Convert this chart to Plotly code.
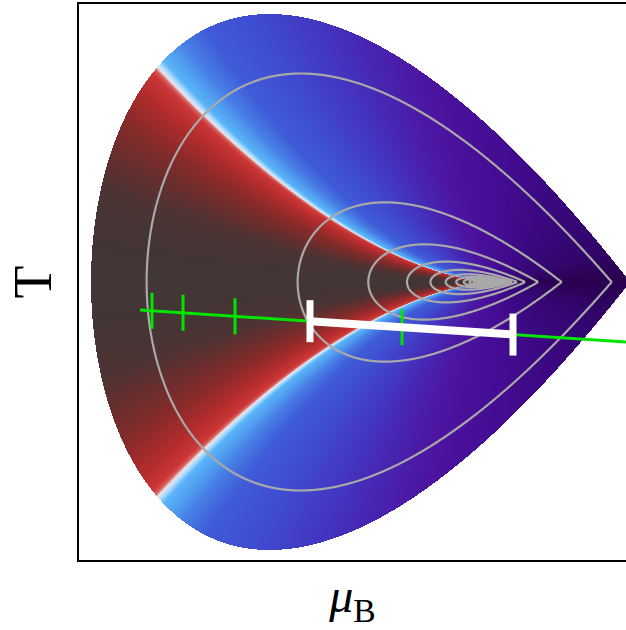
import numpy as np
import plotly.graph_objects as go

# ---------------- values ----------------
# axis units: mu_B and T in arbitrary units (1 unit ~ 1 px of the reference plot area)
mu_range = [0, 547]
T_range = [0, 556]

critical_point = [417, 278]          # (mu_B, T) of the critical point

# parametric (linear) equation of state: r = R (1 - t^2), h ~ R^q * t (1 + c1 t^2 + c2 t^4)
h_coef = [1.0, -0.76201, 0.00804]
height_exponent = 1.7                 # vertical scaling of the contours
region_R = 405                        # R of the outer edge of the shaded region
region_height = 268                   # half height of the region (at its widest)

# contour levels (in 1/sqrt(R))
contour_start = 0.0535
contour_size = 0.0175
contour_end = 0.36

# colour of the field versus the parametric angle t
t_stops = [0.0, 0.10, 0.165, 0.213, 0.29, 0.353, 0.39, 0.399, 0.405, 0.411, 0.423, 0.449,
           0.477, 0.53, 0.632, 0.747, 0.83, 0.91, 1.01, 1.07, 1.12, 1.1505]
t_colors = ['#433636', '#453535', '#4e3333', '#642e2e', '#8a2a2a', '#b42c2c', '#cc3636',
            '#d86060', '#e8e4e8', '#b8e0fc', '#5ab4f8', '#509ef0', '#4880e6', '#3f5cd8',
            '#3f4cd0', '#4336c0', '#4824b0', '#4c14a0', '#440c92', '#3a0880', '#32066c', '#2a0050']

# green trajectory and its marks
green_mu = [61, 547]
green_T = [250, 218]
green_tick_mu = [73, 104, 156, 323]
green_tick_half = 18

# white bar (range on the trajectory)
bar_mu = [231, 434]
bar_cap_half = 21

# ---------------- template curve of one contour ----------------
c0, c1, c2 = h_coef
roots = np.roots([c2, c1, c0])
t_tip = float(np.sqrt(np.min(roots[roots > 0].real)))
tt = np.linspace(0, t_tip, 4000)
h_t = tt * (c0 + c1 * tt ** 2 + c2 * tt ** 4)
tmpl_X = tt ** 2 - 1.0
tmpl_V = np.clip(h_t / h_t.max(), 0, None)

# ---------------- fields ----------------
mu = np.arange(mu_range[0], mu_range[1]) + 0.5
T = np.arange(T_range[0], T_range[1]) + 0.5
M, TT = np.meshgrid(mu, T)
dx = M - critical_point[0]
v = np.abs(TT - critical_point[1])

lo = np.full(M.shape, 0.01)
hi = np.full(M.shape, 5000.0)
for _ in range(46):
    mid = np.sqrt(lo * hi)
    X = dx / mid
    Vn = v / (region_height * (mid / region_R) ** height_exponent)
    lim = np.interp(X, tmpl_X, tmpl_V, left=-1.0, right=-1.0)
    inside = Vn <= lim
    hi = np.where(inside, mid, hi)
    lo = np.where(inside, lo, mid)
Rmap = np.sqrt(lo * hi)
G = np.round(1.0 / np.sqrt(Rmap), 5)

tmap = np.sqrt(np.clip(1.0 + dx / Rmap, 0, t_tip ** 2))
zfield = np.where(Rmap <= region_R, np.round(tmap, 4), np.nan)

colorscale = [[s / t_stops[-1], c] for s, c in zip(t_stops, t_colors)]

fig = go.Figure()
fig.add_trace(go.Heatmap(x=mu, y=T, z=zfield, zmin=0, zmax=t_stops[-1], colorscale=colorscale,
                         showscale=False, hoverinfo='skip', zsmooth=False))
fig.add_trace(go.Contour(x=mu, y=T, z=G, showscale=False, hoverinfo='skip',
                         contours=dict(coloring='none', start=contour_start, end=contour_end,
                                       size=contour_size),
                         line=dict(color='#a9a9a9', width=2.2, smoothing=1)))

# green line
slope = (green_T[1] - green_T[0]) / (green_mu[1] - green_mu[0])


def on_green(m):
    return green_T[0] + slope * (m - green_mu[0])


fig.add_trace(go.Scatter(x=green_mu, y=green_T, mode='lines',
                         line=dict(color='#00e400', width=3), hoverinfo='skip'))
tx, ty = [], []
for m in green_tick_mu:
    c = on_green(m)
    tx += [m, m, None]
    ty += [c - green_tick_half, c + green_tick_half, None]
fig.add_trace(go.Scatter(x=tx, y=ty, mode='lines', line=dict(color='#00e400', width=3),
                         hoverinfo='skip'))

# white bar with caps
fig.add_trace(go.Scatter(x=bar_mu, y=[on_green(m) for m in bar_mu], mode='lines',
                         line=dict(color='white', width=8), hoverinfo='skip'))
cx, cy = [], []
for m in bar_mu:
    c = on_green(m)
    cx += [m, m, None]
    cy += [c - bar_cap_half, c + bar_cap_half, None]
fig.add_trace(go.Scatter(x=cx, y=cy, mode='lines', line=dict(color='white', width=7),
                         hoverinfo='skip'))

axis_common = dict(showgrid=False, zeroline=False, showticklabels=False, ticks='',
                   showline=True, linecolor='black', linewidth=1.5)
fig.update_layout(
    width=626, height=630,
    margin=dict(l=79, r=0, t=4, b=70),
    paper_bgcolor='white', plot_bgcolor='white',
    showlegend=False,
    xaxis=dict(range=mu_range, mirror=True, **axis_common,
               title=dict(text='<i>μ</i><sub>B</sub>', standoff=18,
                          font=dict(family='Liberation Serif', size=48, color='black'))),
    yaxis=dict(range=T_range, mirror=False, **axis_common,
               title=dict(text='T', standoff=8,
                          font=dict(family='Liberation Serif', size=54, color='black'))),
)
fig.write_html('out.html', config={'displayModeBar': False},
               post_script="document.body.style.margin='0px';")
